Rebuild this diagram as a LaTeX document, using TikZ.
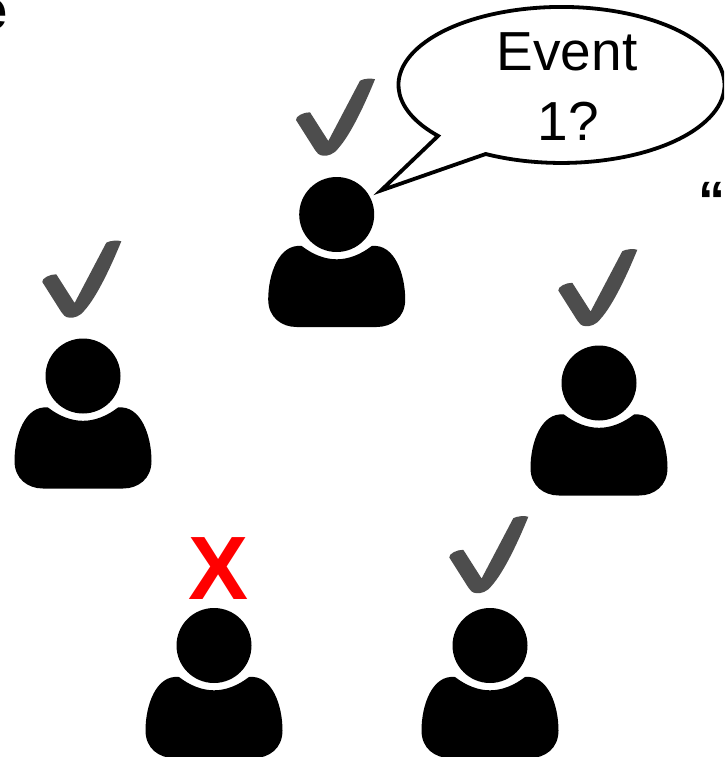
\documentclass[tikz,border=0pt]{standalone}
\usepackage{fontspec}
\setmainfont{Liberation Sans}
\tikzset{
  x=1pt,y=-1pt,
  person/.pic={
    \fill[black] (0,0) circle[radius=37.5];
    \fill[black] (-35,31.5) .. controls (-24,40) and (-12,44.8) .. (0,44.8)
      .. controls (12,44.8) and (24,40) .. (35,31.5)
      .. controls (58,29) and (68.5,60) .. (68.5,85)
      .. controls (68.5,103) and (55,112.5) .. (40,112.5)
      -- (-40,112.5)
      .. controls (-55,112.5) and (-68.5,103) .. (-68.5,85)
      .. controls (-68.5,60) and (-58,29) .. (-35,31.5) -- cycle;
  },
  tick/.pic={
    \fill[tickgray] (-40.7,-94.5) .. controls (-41.5,-98) and (-33,-102.5) .. (-26.7,-102.2)
      -- (-8.4,-73.5) -- (23.3,-133.8)
      .. controls (27,-136) and (35,-136.5) .. (38.3,-135.2)
      .. controls (28,-110) and (14,-80) .. (1.6,-66.2)
      .. controls (-3,-60) and (-9,-58.5) .. (-13.4,-58.8)
      .. controls (-18,-59) and (-20,-62) .. (-21.7,-64.5) -- cycle;
  },
  bubble/.style={draw=black,fill=white,line width=3.8pt,line join=miter},
  bubbletext/.style={anchor=base,inner sep=0pt,font=\fontsize{55}{55}\selectfont},
}
\definecolor{tickgray}{HTML}{4D4D4D}
\begin{document}
\begin{tikzpicture}
\useasboundingbox (0,0) rectangle (724,757);
\clip (0,0) rectangle (724,757);
\fill[white] (0,0) rectangle (724,757);
\node[anchor=base west,inner sep=0pt,font=\fontsize{56}{56}\selectfont\bfseries] (cutoff) at (-24,30) {e};
\node[anchor=base,inner sep=0pt,font=\fontsize{54}{54}\selectfont\bfseries] (quote) at (712,219) {“};
\pic at (336.7,214.5) {person};
\pic at (83,376) {person};
\pic at (599,383) {person};
\pic at (214,645.5) {person};
\pic at (490,645.5) {person};
\pic at (336.7,214.5) {tick};
\pic at (83,376.5) {tick};
\pic at (599,385) {tick};
\pic at (490,652) {tick};
\coordinate (tailA) at (438.1,136);
\coordinate (tailB) at (485.7,154);
\coordinate (tailtip) at (381,190.5);
\draw[bubble] (tailB) arc[start angle=117.7,end angle=-220.8,x radius=163,y radius=78] -- (tailtip) -- cycle;
\node[bubbletext] (event) at (567,70.7) {Event};
\node[bubbletext] (one) at (568,140.7) {1?};
\node[anchor=base,inner sep=0pt,text=red,font=\fontsize{90}{90}\selectfont\bfseries] (cross) at (219,599) {X};
\end{tikzpicture}
\end{document}
